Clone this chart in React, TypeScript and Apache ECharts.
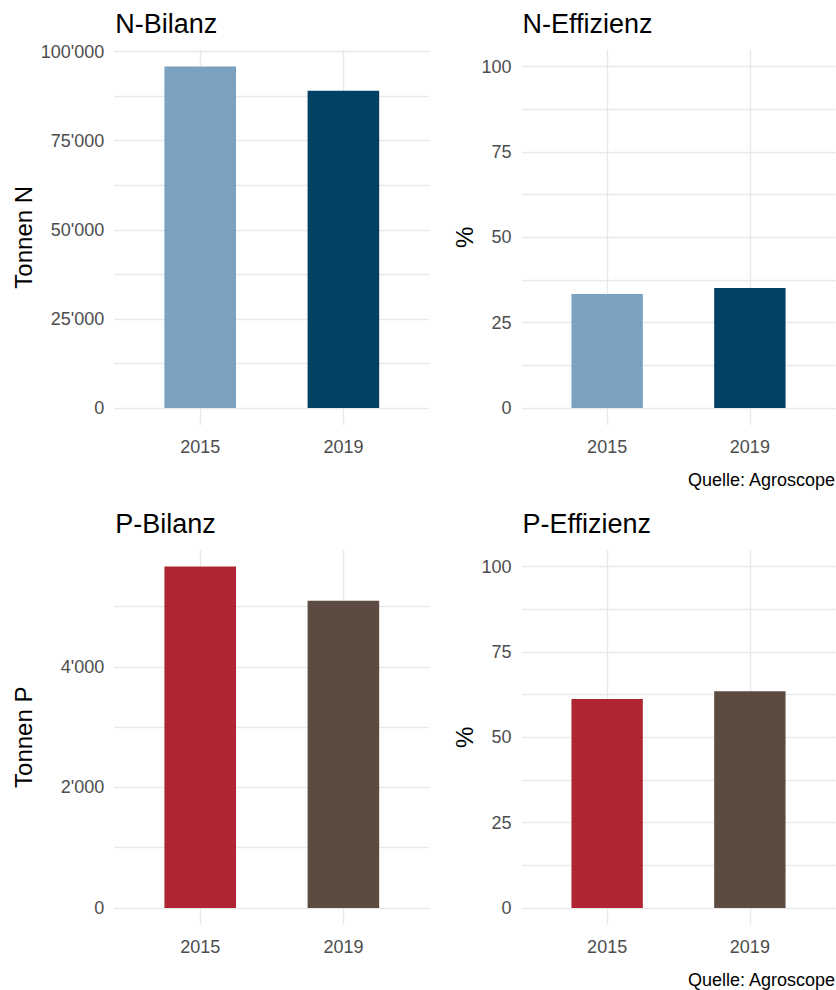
import React, { useEffect, useRef } from 'react';
import * as echarts from 'echarts';

// ---- data ----
const years = ['2015', '2019'];
const nBilanz = [95800, 89000];
const nEffizienz = [33.4, 35.1];
const pBilanz = [5667, 5100];
const pEffizienz = [61.2, 63.5];

const nColors = ['#7AA1C0', '#024164'];
const pColors = ['#AF2632', '#5C4B41'];

const nBilanzLabels = [0, 25000, 50000, 75000, 100000];
const nBilanzGrid = [0, 12500, 25000, 37500, 50000, 62500, 75000, 87500, 100000];
const pBilanzLabels = [0, 2000, 4000];
const pBilanzGrid = [0, 1000, 2000, 3000, 4000, 5000];
const effLabels = [0, 25, 50, 75, 100];
const effGrid = [0, 12.5, 25, 37.5, 50, 62.5, 75, 87.5, 100];

const titles = ['N-Bilanz', 'N-Effizienz', 'P-Bilanz', 'P-Effizienz'];
const axisTitles = ['Tonnen N', '%', 'Tonnen P', '%'];
const caption = 'Quelle: Agroscope';

const FONT = '"Liberation Sans", Arial, Helvetica, sans-serif';
const GRID_COLOR = '#E9E9E9';
const TICK_COLOR = '#4D4D4D';

const fmt = (v: number) => String(Math.round(v)).replace(/\B(?=(\d{3})+(?!\d))/g, "'");

export default function App() {
  const ref = useRef<HTMLDivElement>(null);
  useEffect(() => {
    if (!ref.current) return;
    const chart = echarts.init(ref.current, undefined, { renderer: 'svg' });

    const cols = [
      { x0: 114.3, x1: 429.3 },
      { x0: 521.5, x1: 835.5 },
    ];
    const rows = [
      { y0: 49.5, y1: 425 },
      { y0: 549.5, y1: 925 },
    ];
    const panels = [
      { values: nBilanz, colors: nColors, labels: nBilanzLabels, grid: nBilanzGrid, max: 1.05 * Math.max(...nBilanz), col: 0, row: 0 },
      { values: nEffizienz, colors: nColors, labels: effLabels, grid: effGrid, max: 105, col: 1, row: 0 },
      { values: pBilanz, colors: pColors, labels: pBilanzLabels, grid: pBilanzGrid, max: 1.05 * Math.max(...pBilanz), col: 0, row: 1 },
      { values: pEffizienz, colors: pColors, labels: effLabels, grid: effGrid, max: 105, col: 1, row: 1 },
    ];

    const grids: any[] = [];
    const xAxes: any[] = [];
    const yAxes: any[] = [];
    const series: any[] = [];
    const graphics: any[] = [];

    panels.forEach((p, i) => {
      const c = cols[p.col];
      const r = rows[p.row];
      const ph = r.y1 - r.y0;
      const zero = r.y1 - (ph * 0.05) / 1.1;
      const w = c.x1 - c.x0;
      const unit = w / 2.2;
      grids.push({ left: c.x0, top: r.y0, width: w, height: zero - r.y0, containLabel: false });
      xAxes.push({
        type: 'value',
        gridIndex: i,
        min: 0.4,
        max: 2.6,
        axisLine: { show: false },
        axisTick: { show: true, customValues: [1, 2], length: ph * 0.05 / 1.1, lineStyle: { color: GRID_COLOR, width: 1.4 } },
        axisLabel: {
          customValues: [1, 2],
          formatter: (v: number) => years[Math.round(v) - 1] ?? '',
          margin: 39,
          verticalAlign: 'middle',
          fontSize: 18,
          fontFamily: FONT,
          color: TICK_COLOR,
        },
        splitLine: { show: true, lineStyle: { color: GRID_COLOR, width: 1.4 } },
      });
      yAxes.push({
        type: 'value',
        gridIndex: i,
        min: 0,
        max: p.max,
        axisLine: { show: false },
        axisTick: { show: false, customValues: p.grid },
        axisLabel: {
          customValues: p.labels,
          formatter: (v: number) => fmt(v),
          margin: 10,
          padding: [4, 0, 0, 0],
          fontSize: 18,
          fontFamily: FONT,
          color: TICK_COLOR,
        },
        splitLine: { show: true, lineStyle: { color: GRID_COLOR, width: 1.4 } },
      });
      series.push({
        type: 'bar',
        xAxisIndex: i,
        yAxisIndex: i,
        barWidth: unit * 0.5,
        data: p.values.map((v, k) => ({ value: [k + 1, v], itemStyle: { color: p.colors[k] } })),
      });

      // title
      graphics.push({
        type: 'text',
        x: c.x0 + 1,
        y: r.y0 - 25.8,
        style: { text: titles[i], fontSize: 27, fontFamily: FONT, fill: '#000', align: 'left', verticalAlign: 'middle' },
      });
      // axis title
      graphics.push({
        type: 'text',
        x: p.col === 0 ? 23 : 464,
        y: (r.y0 + r.y1) / 2,
        rotation: Math.PI / 2,
        style: { text: axisTitles[i], fontSize: 24, fontFamily: FONT, fill: '#000', align: 'center', verticalAlign: 'middle' },
      });
      if (p.col === 1) {
        graphics.push({
          type: 'text',
          x: 835,
          y: zero + 72.5,
          style: { text: caption, fontSize: 18, fontFamily: FONT, fill: '#000', align: 'right', verticalAlign: 'middle' },
        });
      }
    });

    chart.setOption({
      animation: false,
      backgroundColor: '#ffffff',
      grid: grids,
      xAxis: xAxes,
      yAxis: yAxes,
      series,
      graphic: graphics,
    });
    return () => chart.dispose();
  }, []);
  return <div ref={ref} style={{ position: 'absolute', left: 0, top: 0, width: 836, height: 990 }} />;
}
